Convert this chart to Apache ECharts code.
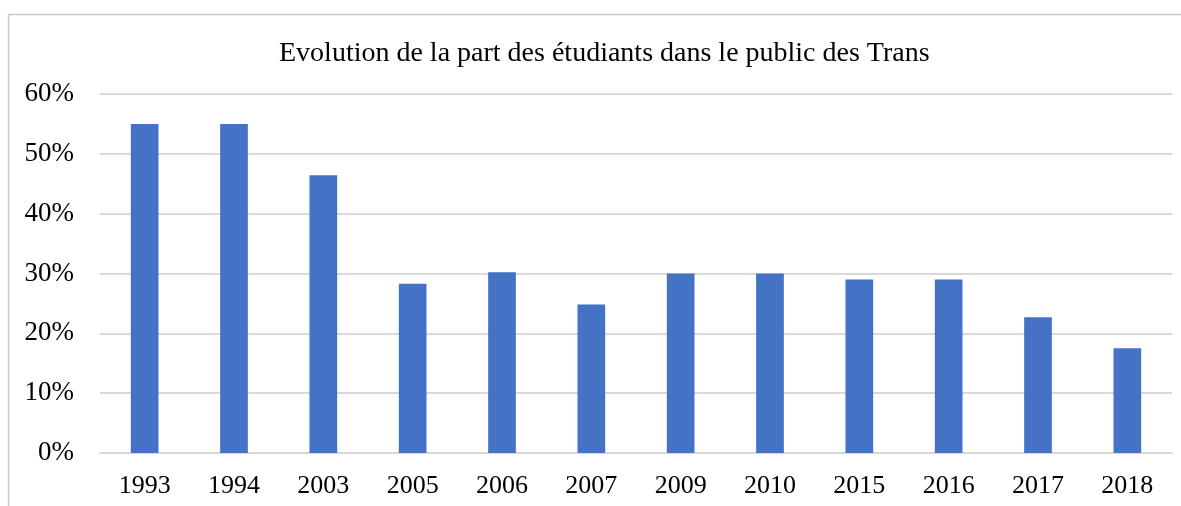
<!DOCTYPE html>
<html><head><meta charset="utf-8">
<script src="https://cdn.jsdelivr.net/npm/echarts@6/dist/echarts.min.js"></script>
<style>html,body{margin:0;padding:0;background:#fff}#c{width:1181px;height:506px}</style>
</head><body><div id="c"></div>
<script>
const title = "Evolution de la part des étudiants dans le public des Trans";
const categories = ["1993","1994","2003","2005","2006","2007","2009","2010","2015","2016","2017","2018"];
const values = [0.55,0.55,0.464,0.283,0.302,0.248,0.30,0.30,0.290,0.290,0.227,0.175];
const yTicks = [0,0.1,0.2,0.3,0.4,0.5,0.6];

const chart = echarts.init(document.getElementById('c'));
const font = '"Liberation Serif","Times New Roman",serif';
chart.setOption({
  animation:false,
  backgroundColor:'#fff',
  title:{text:title,left:274,top:35,textStyle:{fontFamily:font,fontSize:28,fontWeight:'normal',color:'#000'}},
  graphic:[{type:'rect',shape:{x:8.5,y:14.5,width:1300,height:700},style:{fill:'none',stroke:'#c8c8c8',lineWidth:1.5},silent:true}],
  grid:{left:100,right:9,top:94,bottom:53,containLabel:false},
  xAxis:{type:'category',data:categories,
    axisLine:{show:true,lineStyle:{color:'#d9d9d9',width:2}},axisTick:{show:false},
    axisLabel:{fontFamily:font,fontSize:26,color:'#000',margin:20}},
  yAxis:{type:'value',min:yTicks[0],max:yTicks[yTicks.length-1],interval:0.1,
    axisLine:{show:false},axisTick:{show:false},
    splitLine:{lineStyle:{color:'#d9d9d9',width:2}},
    axisLabel:{fontFamily:font,fontSize:27,color:'#000',margin:26,formatter:v=>Math.round(v*100)+'%'}},
  series:[{type:'bar',data:values,barWidth:'31%',itemStyle:{color:'#4472C4'}}]
});
</script></body></html>
